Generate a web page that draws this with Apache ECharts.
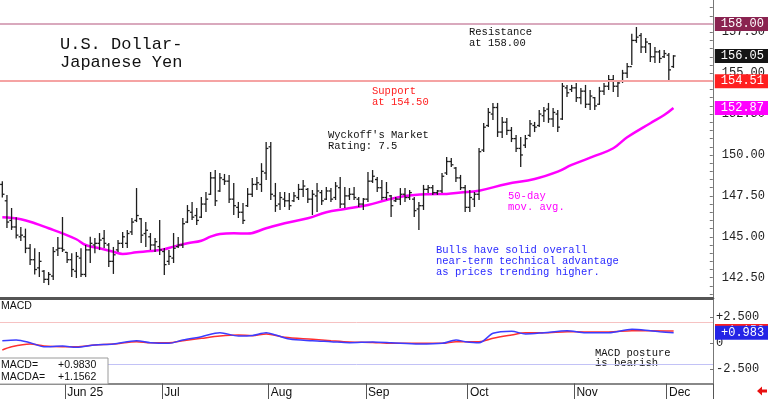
<!DOCTYPE html>
<html>
<head>
<meta charset="utf-8">
<script src="https://cdn.jsdelivr.net/npm/echarts@6/dist/echarts.min.js"></script>
<style>
  html, body { margin: 0; padding: 0; background: #fff; }
  #chart { width: 768px; height: 399px; }
</style>
</head>
<body>
<div id="chart"></div>
<script>
// one category per weekday, starting 2025-05-13
const firstDay = '2025-05-13';
const dayCount = 154;
const monthLabels = {
  '2025-06-02': 'Jun 25', '2025-07-01': 'Jul', '2025-08-01': 'Aug', '2025-09-01': 'Sep',
  '2025-10-01': 'Oct', '2025-11-03': 'Nov', '2025-12-01': 'Dec'
};

// daily bars: [open, high, low, close]
const priceBars = [
  [148.2, 148.4, 147.4, 147.6], [147.2, 147.56, 145.54, 145.9], [146.0, 146.76, 145.42, 145.6], [145.6, 146.2, 144.9, 145.1],
  [145.0, 145.6, 144.75, 145.1], [145.0, 145.5, 144.0, 144.3], [144.3, 144.56, 143.28, 143.6], [143.6, 144.3, 142.7, 143.0],
  [143.1, 144.07, 142.54, 143.5], [142.9, 142.97, 142.18, 142.4], [142.4, 142.85, 142.05, 142.7], [142.6, 144.38, 142.36, 144.1],
  [144.2, 144.99, 143.83, 144.3], [144.3, 146.21, 144.07, 144.2], [144.05, 144.07, 143.4, 143.6], [143.6, 144.0, 142.54, 143.0],
  [142.9, 144.07, 142.48, 143.8], [143.7, 144.3, 142.54, 142.7], [142.7, 144.5, 142.54, 144.2], [144.2, 145.0, 143.4, 144.6],
  [144.5, 144.93, 144.0, 144.6], [144.6, 145.23, 144.19, 144.8], [144.9, 145.42, 144.32, 144.6], [144.5, 144.62, 143.15, 143.5],
  [143.5, 144.38, 142.73, 143.9], [144.2, 144.8, 144.07, 144.6], [144.6, 145.3, 144.32, 145.0], [144.6, 145.42, 144.32, 145.2],
  [145.3, 146.15, 145.11, 145.9], [146.0, 147.98, 145.9, 146.3], [146.1, 146.15, 144.62, 145.1], [145.2, 145.9, 144.38, 145.4],
  [145.0, 145.23, 144.19, 144.5], [144.5, 144.93, 144.07, 144.7], [144.4, 146.03, 143.89, 144.2], [144.1, 144.32, 142.67, 143.3],
  [143.5, 144.19, 143.28, 143.8], [143.7, 145.23, 143.4, 144.3], [144.4, 144.99, 144.32, 144.5], [144.5, 146.15, 144.32, 145.8],
  [145.9, 146.94, 145.84, 146.6], [146.5, 147.13, 146.03, 146.2], [146.3, 146.76, 145.72, 146.0], [146.2, 147.43, 146.15, 147.0],
  [147.0, 147.74, 146.52, 147.3], [147.6, 148.96, 147.56, 148.6], [148.6, 149.08, 146.88, 147.2], [147.8, 148.9, 147.74, 148.6],
  [148.5, 148.84, 148.17, 148.4], [148.4, 148.78, 147.07, 147.3], [147.3, 148.29, 146.33, 146.9], [146.8, 147.13, 146.15, 146.5],
  [146.5, 147.07, 145.78, 146.0], [146.9, 147.98, 146.82, 147.6], [147.6, 148.6, 147.43, 148.2], [148.2, 148.66, 147.86, 148.3],
  [148.2, 149.5, 147.74, 149.0], [148.9, 150.79, 148.47, 150.4], [150.5, 150.79, 147.25, 147.6], [147.5, 148.29, 146.52, 146.9],
  [147.0, 147.74, 146.64, 147.4], [147.3, 147.74, 146.82, 147.2], [147.2, 147.68, 146.64, 146.9], [147.2, 147.74, 147.13, 147.5],
  [147.4, 148.23, 147.25, 147.9], [147.9, 148.47, 147.43, 148.1], [147.9, 147.98, 147.07, 147.3], [147.3, 147.86, 146.33, 147.6],
  [147.5, 148.29, 146.52, 147.8], [147.7, 147.86, 146.94, 147.2], [147.3, 148.04, 147.25, 147.8], [147.8, 147.98, 147.13, 147.3],
  [147.4, 148.35, 147.25, 148.1], [148.0, 148.66, 146.76, 147.0], [147.0, 148.04, 146.76, 147.5], [147.5, 147.98, 147.25, 147.6],
  [147.6, 148.04, 147.25, 147.4], [147.3, 147.43, 146.82, 147.0], [147.0, 147.37, 146.64, 147.3], [147.3, 148.96, 147.13, 148.4],
  [148.4, 149.08, 148.29, 148.7], [148.5, 148.66, 147.74, 148.0], [148.0, 148.47, 147.25, 147.4], [147.4, 148.35, 147.25, 147.7],
  [147.5, 147.56, 146.21, 146.9], [147.2, 147.43, 147.13, 147.3], [147.3, 147.98, 146.94, 147.6], [147.6, 147.98, 147.13, 147.4],
  [147.4, 147.86, 147.25, 147.7], [147.3, 147.43, 146.21, 146.6], [146.7, 147.13, 145.42, 146.9], [146.9, 148.17, 146.64, 147.9],
  [147.9, 148.17, 147.68, 148.0], [148.0, 148.17, 147.56, 147.7], [147.7, 147.86, 147.56, 147.8], [147.8, 148.9, 147.68, 148.7],
  [148.9, 149.88, 148.78, 149.6], [149.6, 149.82, 149.27, 149.4], [149.2, 149.27, 148.35, 148.6], [148.6, 148.78, 147.86, 148.0],
  [148.0, 148.17, 146.52, 146.8], [146.8, 147.86, 146.52, 147.4], [147.3, 147.74, 146.82, 147.6], [147.6, 150.43, 147.25, 150.2],
  [150.3, 151.96, 150.18, 151.7], [151.8, 152.87, 151.71, 152.6], [152.5, 153.18, 152.14, 152.9], [152.9, 153.18, 151.1, 151.4],
  [151.4, 152.32, 151.04, 152.0], [152.0, 152.26, 151.22, 151.5], [151.5, 151.71, 150.79, 151.0], [151.0, 151.22, 150.18, 150.4],
  [150.4, 151.1, 149.27, 150.0], [150.6, 151.22, 150.43, 151.0], [151.2, 152.14, 151.1, 151.9], [151.8, 152.02, 151.4, 151.7],
  [151.8, 152.75, 151.71, 152.5], [152.4, 152.93, 152.02, 152.7], [152.8, 153.18, 151.96, 152.2], [152.2, 152.87, 151.71, 152.6],
  [152.5, 152.75, 151.4, 151.7], [152.2, 154.4, 152.14, 154.2], [154.1, 154.28, 153.55, 153.8], [154.0, 154.28, 153.85, 154.1],
  [154.1, 154.4, 153.24, 153.5], [153.5, 154.1, 153.1, 153.9], [153.9, 154.28, 152.87, 153.1], [153.1, 153.97, 152.75, 153.6],
  [153.5, 153.55, 152.75, 153.0], [153.1, 154.16, 153.06, 153.9], [153.9, 154.4, 153.67, 154.2], [154.2, 154.89, 153.97, 154.6],
  [154.6, 154.89, 153.85, 154.2], [154.2, 154.58, 153.55, 154.4], [154.5, 155.2, 154.4, 155.0], [155.0, 155.62, 154.7, 155.4],
  [155.4, 157.4, 155.5, 157.0], [157.0, 157.82, 156.85, 157.2], [157.3, 157.46, 156.23, 156.6], [156.6, 157.15, 156.23, 156.9],
  [156.8, 156.85, 155.68, 156.0], [156.0, 156.6, 155.62, 156.3], [156.3, 156.42, 155.62, 155.9], [156.0, 156.42, 155.93, 156.2],
  [156.1, 156.23, 154.58, 155.2], [155.4, 156.1, 155.32, 156.05]
];

// 50-day moving average, read at [bar index, value]
const maPoints = [
  [0, 146.19], [4, 146.07], [7, 145.83], [10, 145.52], [13, 145.21], [16, 144.85], [18, 144.5], [21, 144.3],
  [24, 144.09], [26, 143.95], [29, 144.05], [32, 144.13], [35, 144.24], [37, 144.4], [40, 144.6], [43, 144.76],
  [45, 145.01], [47, 145.17], [50, 145.21], [53, 145.2], [57, 145.52], [61, 145.83], [66, 146.13], [70, 146.5],
  [74, 146.7], [79, 146.94], [83, 147.25], [87, 147.49], [92, 147.6], [96, 147.62], [99, 147.7], [103, 147.82],
  [109, 148.23], [115, 148.53], [120, 148.98], [123, 149.39], [128, 149.94], [132, 150.41], [135, 151.08],
  [140, 151.94], [143, 152.44], [145, 152.87]
];

// MACD (blue) and MACDA (red), read at [bar index, value]
const macdPoints = [
  [0, 0.22], [3, 0.29], [6, 0.03], [9, -0.36], [13, -0.29], [16, -0.41], [20, -0.19], [24, -0.1], [29, 0.22],
  [32, 0.03], [36, -0.03], [39, 0.29], [43, 0.61], [47, 0.99], [51, 0.67], [54, 0.72], [57, 0.99], [59, 0.77],
  [62, 0.38], [67, 0.22], [71, 0.13], [75, 0.03], [80, 0.1], [84, 0.03], [90, -0.1], [95, -0.03], [98, 0.29],
  [100, 0.13], [103, 0.03], [106, 0.93], [110, 1.13], [113, 0.87], [117, 0.99], [122, 1.18], [126, 0.99],
  [131, 0.99], [136, 1.32], [140, 1.18], [142, 1.09], [145, 0.983]
];
const macdaPoints = [
  [0, -0.67], [2, -0.36], [6, -0.1], [9, -0.29], [13, -0.36], [16, -0.36], [20, -0.19], [24, -0.1], [29, 0.13],
  [32, 0.03], [36, 0.03], [39, 0.22], [43, 0.45], [47, 0.67], [51, 0.77], [54, 0.7], [57, 0.87], [61, 0.55],
  [67, 0.36], [71, 0.22], [75, 0.1], [80, 0.06], [84, -0.03], [90, -0.03], [95, -0.03], [98, 0.13], [103, 0.13],
  [106, 0.45], [110, 0.77], [113, 0.99], [117, 0.99], [122, 1.09], [126, 1.06], [131, 1.06], [136, 1.18],
  [140, 1.18], [145, 1.156]
];
const macdValue = 0.9830;
const macdaValue = 1.1562;

const resistance = 158.00;
const support = 154.51;
const lastClose = priceBars[priceBars.length - 1][3];
const lastMa = maPoints[maPoints.length - 1][1];

const priceLabels = [142.5, 145, 147.5, 150, 152.5, 155, 157.5];
const macdLabels = [-2.5, 0, 2.5];
const macdBands = [2, -2];

function weekdays(start, n) {
  const out = [];
  const d = new Date(start + 'T00:00:00Z');
  while (out.length < n) {
    const w = d.getUTCDay();
    if (w !== 0 && w !== 6) out.push(d.toISOString().slice(0, 10));
    d.setUTCDate(d.getUTCDate() + 1);
  }
  return out;
}
const tradingDays = weekdays(firstDay, dayCount);

const priceTicks = [];
for (let v = 141.5; v <= 159; v += 0.5) priceTicks.push(v);

const mono = 'Liberation Mono';
const sans = 'Liberation Sans';
const noLine = { color: 'rgba(0,0,0,0)', width: 1 };

function badge(bg, text) {
  return {
    show: true, position: 'end', distance: 2,
    formatter: text, color: '#fff', backgroundColor: bg,
    fontFamily: mono, fontSize: 12, lineHeight: 12, padding: [1, 5, 1, 6]
  };
}
const signed = (v, d) => (v >= 0 ? '+' : '') + v.toFixed(d);

const chart = echarts.init(document.getElementById('chart'));

const option = {
  animation: false,
  backgroundColor: '#fff',
  title: {
    text: 'U.S. Dollar-\nJapanese Yen', left: 60, top: 35, padding: 0,
    textStyle: { fontFamily: mono, fontSize: 17, fontWeight: 'normal', lineHeight: 18, color: '#111' }
  },
  grid: [
    { left: 0, right: 55, top: 0, height: 298 },
    { left: 0, right: 55, top: 300, height: 83.5 }
  ],
  xAxis: [
    {
      type: 'category', gridIndex: 0, data: tradingDays, boundaryGap: true,
      axisLine: { onZero: false, lineStyle: { color: '#555', width: 3 } },
      axisTick: { show: false }, axisLabel: { show: false }
    },
    {
      type: 'category', gridIndex: 1, data: tradingDays, boundaryGap: true,
      axisLine: { onZero: false, lineStyle: { color: '#888', width: 2 } },
      axisTick: { show: true, interval: (i, v) => v in monthLabels, length: 16, lineStyle: { color: '#555' } },
      axisLabel: {
        interval: (i, v) => v in monthLabels, formatter: v => monthLabels[v] || '',
        align: 'left', margin: 3, fontFamily: sans, fontSize: 12, color: '#111'
      }
    }
  ],
  yAxis: [
    {
      type: 'value', gridIndex: 0, position: 'right', min: 141.26, max: 159.47,
      splitLine: { show: false },
      axisLine: { show: true, lineStyle: { color: '#777' } },
      axisTick: { show: true, inside: true, length: 3, customValues: priceTicks, lineStyle: { color: '#777' } },
      axisLabel: { customValues: priceLabels, formatter: v => v.toFixed(2), margin: 9, fontFamily: mono, fontSize: 12, color: '#222' }
    },
    {
      type: 'value', gridIndex: 1, position: 'right', min: -3.894, max: 4.135,
      splitLine: { show: false },
      axisLine: { show: true, lineStyle: { color: '#777' } },
      axisTick: { show: true, inside: true, length: 3, customValues: macdLabels, lineStyle: { color: '#777' } },
      axisLabel: {
        customValues: macdLabels, formatter: v => (v === 0 ? '0' : signed(v, 3)),
        margin: 3, fontFamily: mono, fontSize: 12, color: '#222'
      }
    }
  ],
  series: [
    {
      name: '50-day', type: 'line', xAxisIndex: 0, yAxisIndex: 0, data: maPoints,
      smooth: 0.4, showSymbol: false, z: 2,
      lineStyle: { color: '#ff00ff', width: 2.5 }
    },
    {
      name: 'USDJPY', type: 'custom', xAxisIndex: 0, yAxisIndex: 0, z: 3,
      data: priceBars.map((b, i) => [i, b[0], b[1], b[2], b[3]]),
      encode: { x: 0, y: [1, 2, 3, 4] },
      renderItem: function (params, api) {
        const i = api.value(0);
        const x = api.coord([i, api.value(2)])[0];
        const yO = api.coord([i, api.value(1)])[1];
        const yH = api.coord([i, api.value(2)])[1];
        const yL = api.coord([i, api.value(3)])[1];
        const yC = api.coord([i, api.value(4)])[1];
        const st = { stroke: '#1e1e1e', lineWidth: 1.3 };
        return {
          type: 'group',
          children: [
            { type: 'line', shape: { x1: x, y1: yH, x2: x, y2: yL }, style: st },
            { type: 'line', shape: { x1: x - 2.2, y1: yO, x2: x, y2: yO }, style: st },
            { type: 'line', shape: { x1: x, y1: yC, x2: x + 2.2, y2: yC }, style: st }
          ]
        };
      },
      markLine: {
        silent: true, symbol: 'none', animation: false,
        data: [
          { yAxis: resistance, lineStyle: { color: '#d9a9bd', width: 2, type: 'solid' }, label: badge('#8a2350', resistance.toFixed(2)) },
          { yAxis: lastClose, lineStyle: noLine, label: badge('#151515', lastClose.toFixed(2)) },
          { yAxis: support, lineStyle: { color: '#f5a3a3', width: 2, type: 'solid' }, label: badge('#ff2020', support.toFixed(2)) },
          { yAxis: lastMa, lineStyle: noLine, label: badge('#ff00ff', lastMa.toFixed(2)) }
        ]
      }
    },
    {
      name: 'MACDA', type: 'line', xAxisIndex: 1, yAxisIndex: 1, data: macdaPoints,
      smooth: 0.3, showSymbol: false, z: 3,
      lineStyle: { color: '#ff3030', width: 1.5 },
      markLine: {
        silent: true, symbol: 'none', animation: false,
        data: [
          { yAxis: macdBands[0], lineStyle: { color: '#f6c2c2', width: 1, type: 'solid' }, label: { show: false } },
          { yAxis: macdBands[1], lineStyle: { color: '#c2c2f6', width: 1, type: 'solid' }, label: { show: false } },
          { yAxis: macdaValue, lineStyle: noLine, label: badge('#ff2020', signed(macdaValue, 3)) }
        ]
      }
    },
    {
      name: 'MACD', type: 'line', xAxisIndex: 1, yAxisIndex: 1, data: macdPoints,
      smooth: 0.3, showSymbol: false, z: 4,
      lineStyle: { color: '#3c3cff', width: 1.5 },
      markLine: {
        silent: true, symbol: 'none', animation: false,
        data: [
          { yAxis: macdValue, lineStyle: noLine, label: badge('#2424e6', signed(macdValue, 3)) }
        ]
      }
    }
  ],
  graphic: [
    { type: 'text', x: 469, y: 26.5, style: { text: 'Resistance\nat 158.00', fill: '#111', fontFamily: mono, fontSize: 10.5, lineHeight: 11, verticalAlign: 'top' } },
    { type: 'text', x: 372, y: 86, style: { text: 'Support\nat 154.50', fill: '#ff2020', fontFamily: mono, fontSize: 10.5, lineHeight: 11, verticalAlign: 'top' } },
    { type: 'text', x: 328, y: 130, style: { text: "Wyckoff's Market\nRating: 7.5", fill: '#111', fontFamily: mono, fontSize: 10.5, lineHeight: 10.5, verticalAlign: 'top' } },
    { type: 'text', x: 508, y: 191, style: { text: '50-day\nmov. avg.', fill: '#ff00ff', fontFamily: mono, fontSize: 10.5, lineHeight: 11, verticalAlign: 'top' } },
    { type: 'text', x: 436, y: 244.5, style: { text: 'Bulls have solid overall\nnear-term technical advantage\nas prices trending higher.', fill: '#2a2aff', fontFamily: mono, fontSize: 10.5, lineHeight: 11, verticalAlign: 'top' } },
    { type: 'text', x: 595, y: 347.5, style: { text: 'MACD posture\nis bearish', fill: '#111', fontFamily: mono, fontSize: 10.5, lineHeight: 10.5, verticalAlign: 'top' } },
    { type: 'text', x: 1, y: 301, style: { text: 'MACD', fill: '#111', fontFamily: sans, fontSize: 10.5, verticalAlign: 'top' } },
    { type: 'rect', shape: { x: -1, y: 358, width: 109, height: 26 }, style: { fill: '#fff', stroke: '#9a9a9a', lineWidth: 1 }, z: 10 },
    { type: 'text', x: 1, y: 359.5, z: 11, style: { text: 'MACD=\nMACDA=', fill: '#111', fontFamily: sans, fontSize: 10.5, lineHeight: 12, verticalAlign: 'top' } },
    { type: 'text', x: 58, y: 359.5, z: 11, style: { text: signed(macdValue, 4) + '\n' + signed(macdaValue, 4), fill: '#111', fontFamily: sans, fontSize: 10.5, lineHeight: 12, verticalAlign: 'top' } },
    { type: 'polygon', shape: { points: [[757, 391], [762, 386.5], [762, 389.5], [767, 389.5], [767, 392.5], [762, 392.5], [762, 395.5]] }, style: { fill: '#e81010' } }
  ]
};

chart.setOption(option);
</script>
</body>
</html>
